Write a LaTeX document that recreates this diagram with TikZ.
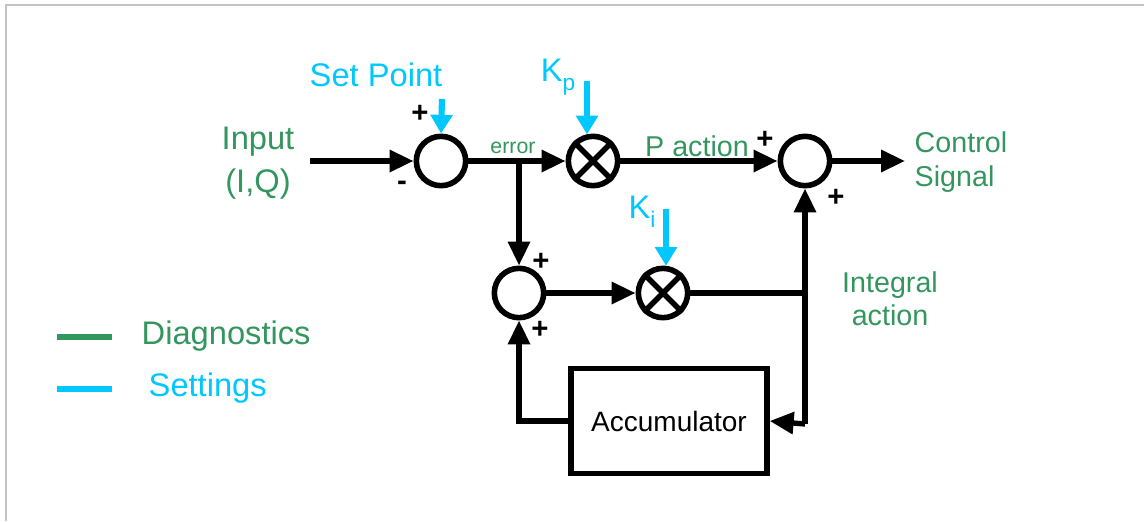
\documentclass[tikz,border=0pt]{standalone}
\usepackage{fontspec}
\setmainfont{Liberation Sans}
\usetikzlibrary{arrows.meta}
\definecolor{diag}{RGB}{52,150,95}
\definecolor{sett}{RGB}{0,200,255}
\definecolor{frame}{RGB}{195,195,195}
\begin{document}
\begin{tikzpicture}[x=0.75pt,y=-0.75pt,
  sig/.style={line width=4pt},
  arr/.style={sig,-{Triangle[length=18pt,width=16pt]}},
  setarr/.style={line width=4.6pt,draw=sett,-{Triangle[length=14pt,width=16pt]}},
  junc/.style={circle,draw,line width=4.2pt,minimum size=37pt,inner sep=0pt},
  acc/.style={draw,line width=4pt,minimum width=147pt,minimum height=79pt,inner sep=0pt,font=\fontsize{21}{25}\selectfont},
  big/.style={font=\fontsize{24.5}{32}\selectfont},
  mid/.style={font=\fontsize{21.5}{25}\selectfont},
  small/.style={font=\fontsize{16}{19}\selectfont},
  sgn/.style={font=\fontsize{22}{24}\selectfont\bfseries},
  legline/.style={line width=4pt}]
\useasboundingbox (0,0) rectangle (1144,521);
\draw[frame,line width=1.2pt] (6,521) -- (6,5) -- (1144,5);

% blocks
\node[junc] (s1) at (441,161) {};
\node[junc] (k1) at (593,161) {};
\node[junc] (s3) at (805,161) {};
\node[junc] (s2) at (519,293) {};
\node[junc] (k2) at (663,293) {};
\draw[line width=4pt] (k1.north west) -- (k1.south east) (k1.north east) -- (k1.south west);
\draw[line width=4pt] (k2.north west) -- (k2.south east) (k2.north east) -- (k2.south west);
\node[acc] (acc) at (669,421) {Accumulator};

% coordinates
\coordinate (in) at (310,161);
\coordinate (br) at (519,161);
\coordinate (out) at (905,161);
\coordinate (jk) at (805,293);
\coordinate (ja) at (805,424);
\coordinate (sp) at (442,99);
\coordinate (kp) at (587,81);
\coordinate (ki) at (666,209);

% connectors
\draw[arr] (in) -- (s1);
\draw[arr] (s1) -- (k1);
\draw[arr] (br) -- (s2.north);
\draw[arr] (k1) -- (s3);
\draw[arr] (s3) -- (out);
\draw[arr] (s2) -- (k2);
\draw[sig] (k2.east) -- (jk);
\draw[arr] (ja) -- (s3.south);
\draw[arr] (ja) -- (acc.east);
\draw[arr] (acc.west) -| (s2.south);
\draw[setarr] (sp) -- (s1.north);
\draw[setarr] (kp) -- (kp |- k1.104);
\draw[setarr] (ki) -- (ki |- k2.83);

% labels
\node[big,diag,align=center] (lin) at (258,163) {Input\\(I,Q)};
\node[big,sett] (lsp) at (376,75) {Set Point};
\node[sgn] (p1) at (420,114) {+};
\node[sgn] (m1) at (402,186) {-};
\node[small,diag] (lerr) at (513,148) {error};
\node[big,sett] (lkp) at (558,77) {K\raisebox{-0.28em}{\fontsize{17}{19}\selectfont p}};
\node[big,sett] (lki) at (642,212) {K\raisebox{-0.28em}{\fontsize{17}{19}\selectfont i}};
\node[mid,diag] (lpa) at (697,146) {P action};
\node[sgn] (p3a) at (765,140) {+};
\node[sgn] (p3b) at (836,198) {+};
\node[mid,diag,align=left,anchor=west] (lcs) at (910,162) {Control\\Signal};
\node[mid,diag,align=center] (lia) at (890,299) {Integral\\action};
\node[sgn] (p2a) at (541,262) {+};
\node[sgn] (p2b) at (540,330) {+};

% legend
\coordinate (g1) at (57,337);
\coordinate (g2) at (112,337);
\coordinate (c1) at (57,389);
\coordinate (c2) at (112,389);
\draw[legline,diag] (g1) -- (g2);
\draw[legline,sett] (c1) -- (c2);
\node[big,diag,anchor=west] (ld) at (137,336) {Diagnostics};
\node[big,sett,anchor=west] (ls) at (144,388) {Settings};
\end{tikzpicture}
\end{document}
